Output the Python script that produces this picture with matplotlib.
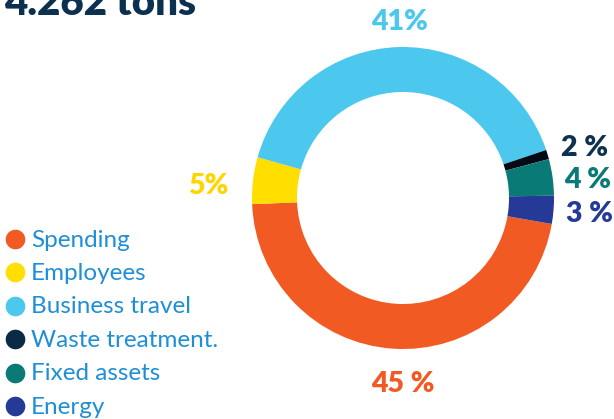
import matplotlib
matplotlib.use("Agg")
import matplotlib.pyplot as plt

W, H = 614, 419
categories = ["Spending", "Employees", "Business travel", "Waste treatment.", "Fixed assets", "Energy"]
values = [46.6, 5.0, 40.5, 1.0, 3.9, 3.0]
labels = ["45 %", "5%", "41%", "2 %", "4 %", "3 %"]
colors = ["#F15A22", "#FFDE00", "#4CC7ED", "#050A14", "#0A7A76", "#253A97"]
legend_colors = ["#F15A22", "#FFDE00", "#4CC7ED", "#0B2A45", "#0A7A76", "#253A97"]
label_colors = ["#F15A22", "#FFD500", "#4CC7ED", "#0E3150", "#0A7A76", "#253A97"]
title = "4.262 tons"

fig = plt.figure(figsize=(W / 100, H / 100), dpi=100)
ax = fig.add_axes([0, 0, 1, 1])

cx, cy, R = 403, H - 198, 151
ax.pie(values, colors=colors, startangle=-9.9, counterclock=False,
       center=(cx, cy), radius=R, frame=True,
       wedgeprops=dict(width=45, linewidth=0))
ax.set_xlim(0, W)
ax.set_ylim(0, H)
ax.set_aspect("auto")
ax.axis("off")

fam = ["Lato", "DejaVu Sans"]
# percentage labels
label_pos = [(403, 384), (208, 186), (400, 22), (585, 148), (588, 180), (590, 214)]
for (x, y), t, c in zip(label_pos, labels, label_colors):
    ax.text(x, H - y, t, color=c, fontsize=20.5, fontweight="heavy", family=fam,
            ha="center", va="center")

# title (cut at the top)
ax.text(4, H - 15, title, color="#0B3050", fontsize=29, fontweight="heavy",
        family=fam, ha="left", va="baseline")

# legend
y0, dy = 239, 33.4
for i, (cat, c) in enumerate(zip(categories, legend_colors)):
    y = H - (y0 + i * dy)
    ax.scatter([15], [y], s=200, color=c, linewidths=0, zorder=3)
    ax.text(31, y - 1, cat, color="#1E8FD6", fontsize=17.5, family=fam,
            ha="left", va="center")

fig.savefig("out.png", dpi=100)
